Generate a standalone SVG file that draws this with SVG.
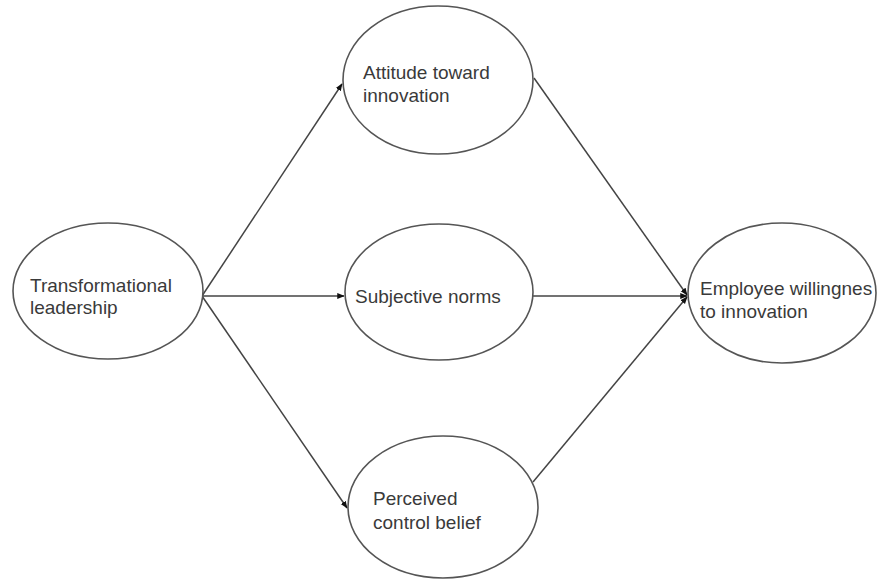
<svg xmlns="http://www.w3.org/2000/svg" width="877" height="580" viewBox="0 0 877 580">
<style>
.node ellipse{fill:#fff;stroke:#555;stroke-width:1.6}
.lbl{font-family:"Liberation Sans",Arial,sans-serif;font-size:19px;fill:#3a3a3a}
.edge{stroke:#444;stroke-width:1.5;fill:none;marker-end:url(#ah)}
</style>
<defs>
<marker id="ah" viewBox="0 0 10 10" refX="9" refY="5" markerWidth="5" markerHeight="5" orient="auto" markerUnits="strokeWidth">
<path d="M0,1 L10,5 L0,9 z" fill="#111"/>
</marker>
</defs>
<rect width="877" height="580" fill="#fff"/>
<g id="connectors">
<line class="edge" x1="202" y1="296" x2="342" y2="84"/>
<line class="edge" x1="202" y1="296" x2="344" y2="296"/>
<line class="edge" x1="202" y1="296" x2="347" y2="508"/>
<line class="edge" x1="534" y1="78" x2="687" y2="295"/>
<line class="edge" x1="533" y1="296" x2="687" y2="296"/>
<line class="edge" x1="533" y1="482" x2="687" y2="297"/>
</g>
<g id="transformational" class="node">
<ellipse cx="108" cy="291" rx="95" ry="68"/>
<text class="lbl" x="30" y="292">Transformational</text>
<text class="lbl" x="30" y="314">leadership</text>
</g>
<g id="attitude" class="node">
<ellipse cx="438" cy="80" rx="95" ry="74"/>
<text class="lbl" x="363" y="79">Attitude toward</text>
<text class="lbl" x="363" y="102">innovation</text>
</g>
<g id="subjective" class="node">
<ellipse cx="439" cy="292" rx="94" ry="68"/>
<text class="lbl" x="355" y="303">Subjective norms</text>
</g>
<g id="perceived" class="node">
<ellipse cx="443" cy="507" rx="95" ry="71"/>
<text class="lbl" x="373" y="505">Perceived</text>
<text class="lbl" x="373" y="529">control belief</text>
</g>
<g id="employee" class="node">
<ellipse cx="782" cy="293" rx="94" ry="70"/>
<text class="lbl" x="700" y="295">Employee willingnes</text>
<text class="lbl" x="700" y="318">to innovation</text>
</g>
</svg>
